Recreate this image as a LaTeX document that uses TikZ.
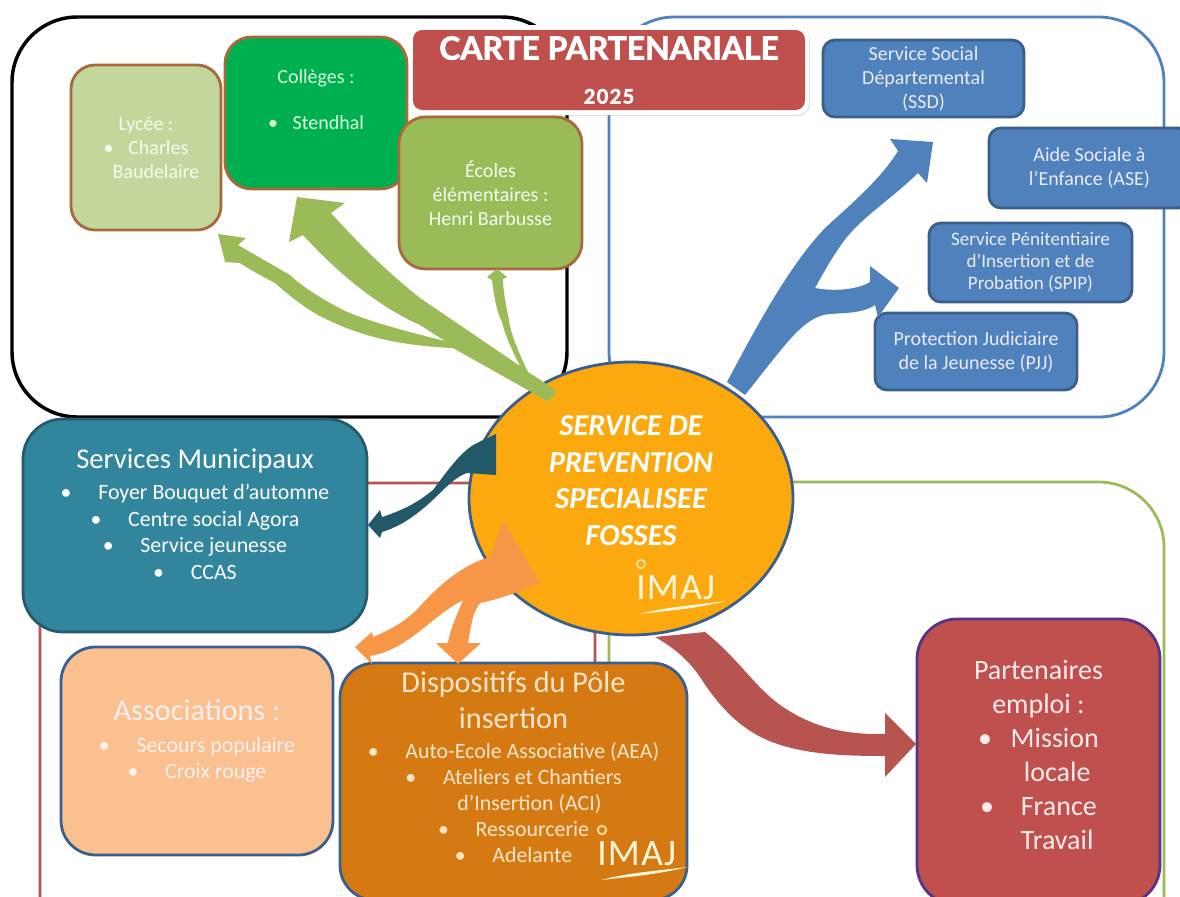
\documentclass[tikz,border=0pt]{standalone}
\usepackage{fontspec}
\setmainfont{Carlito}
\newfontfamily\titlefont[FakeBold=2.2]{Lato Bold}
\usetikzlibrary{shapes.geometric,shadows}
\newcommand\fsz[2]{\fontsize{#1}{#2}\selectfont}
\newcommand\bl{•\hspace{20pt}}
\newcommand\lowdepth[1]{\rule[-#1]{0pt}{#1}}
\definecolor{ctBlack}{HTML}{000000}
\definecolor{ctBlue}{HTML}{4F81BD}
\definecolor{ctRed}{HTML}{B85450}
\definecolor{ctGreen}{HTML}{9BBB59}
\definecolor{edgeBrown}{HTML}{A9693C}
\definecolor{edgeNavy}{HTML}{3A5F8C}
\definecolor{fillRed}{HTML}{C0504D}
\definecolor{fillTeal}{HTML}{31859C}
\definecolor{fillLime}{HTML}{C3D69B}
\definecolor{fillJade}{HTML}{00B050}
\definecolor{darkTeal}{HTML}{215968}
\definecolor{fillPeach}{HTML}{FAC090}
\definecolor{fillOrange}{HTML}{D57A12}
\definecolor{arrowOrange}{HTML}{F79646}
\definecolor{sunOrange}{HTML}{FBA90F}
\definecolor{logoWhite}{HTML}{FFF6DC}
\tikzset{
  zone/.style={line width=2.1pt, rounded corners=49pt},
  card/.style={draw=edgeNavy, line width=2.1pt, align=center, inner sep=0pt},
  brownCard/.style={card, draw=edgeBrown, rounded corners=18pt, font=\fsz{15}{18}},
  blueCard/.style={card, fill=ctBlue, rounded corners=9pt, text=blue!8!white, font=\fsz{15}{18}},
  flow/.style={draw=none}
}
\tikzset{
  imajlogo/.pic={
    \draw[sunOrange!45!white, line width=1.5pt] (6,3) circle (4.2);
    \node[text=logoWhite, font=\fsz{28}{28}, anchor=west, inner sep=0pt] (-word) at (1,27) {I\hspace{1pt}M\hspace{1pt}A\hspace{1pt}J};
    \fill[logoWhite] (5,53) .. controls (30,46) and (60,44) .. (91,40) .. controls (60,48) and (30,50) .. (5,53) -- cycle;
  }
}
\begin{document}
\begin{tikzpicture}[x=0.75pt,y=-0.75pt]
\useasboundingbox (0,0) rectangle (1180,896);
\fill[white] (0,0) rectangle (1180,896);
% containers
\draw[zone, draw=ctRed] (40,483) rectangle (595,960);
\draw[zone, draw=ctGreen] (609,482) rectangle (1164,960);
\draw[zone, draw=ctBlack, line width=2.6pt] (12,17) rectangle (567,417);
\draw[zone, draw=ctBlue] (609,17) rectangle (1164,417);
% title
\node[fill=white, rounded corners=9pt, minimum width=300.75pt, minimum height=67.5pt, inner sep=0pt, drop shadow={shadow xshift=0.6pt, shadow yshift=-0.9pt, opacity=0.25}] (halo) at (608.5,70) {};
\node[fill=fillRed, rounded corners=7pt, minimum width=294pt, minimum height=60pt, align=center, inner sep=0pt, text=white, font=\titlefont\fsz{15}{33}] (title) at (609,70)
  {{\fsz{23.9}{33}\selectfont CARTE PARTENARIALE}\\ 2\hspace{1pt}0\hspace{1pt}2\hspace{1pt}5};
% arrows under cards
\fill[ctRed, flow] (655,637) .. controls (675,648) and (690,662) .. (700,677) .. controls (720,708) and (740,728) .. (767,740) .. controls (800,754) and (840,756) .. (885,756) -- (885,777) -- (916,744) -- (885,713) -- (885,734) .. controls (840,735) and (810,725) .. (783,707) .. controls (755,688) and (740,660) .. (705,632) -- cycle;
% school cards
\node[brownCard, fill=fillLime, text=green!6!white, minimum width=112.5pt, minimum height=123.75pt] (lycee) at (146,147.5)
  {Lycée :\\ •\hspace{11pt}Charles\\ \hspace*{15pt}Baudelaire};
\node[brownCard, fill=fillJade, text=green!15!white, minimum width=136.5pt, minimum height=114pt, rounded corners=20pt] (college) at (316,113)
  {Collèges :\\[17pt] •\hspace{11pt}Stendhal\lowdepth{20pt}};
\node[brownCard, fill=ctGreen, text=green!6!white, minimum width=137.25pt, minimum height=114pt, rounded corners=20pt] (ecole) at (490.5,193)
  {Écoles\\ élémentaires :\\ Henri Barbusse};
% partner cards
\node[blueCard, minimum width=150.75pt, minimum height=57.75pt] (ssd) at (923.5,78.5) {Service Social\\ Départemental\\ (SSD)};
\node[blueCard, minimum width=150.75pt, minimum height=60pt] (ase) at (1089.5,168) {Aide Sociale à\\ l’Enfance (ASE)};
\node[blueCard, minimum width=152.25pt, minimum height=59.25pt, font=\fsz{14.3}{16.5}] (spip) at (1030.5,262.5) {Service Pénitentiaire\\ d’Insertion et de\\ Probation (SPIP)};
\node[blueCard, minimum width=151.5pt, minimum height=57.75pt] (pjj) at (976,351.5) {Protection Judiciaire\\ de la Jeunesse (PJJ)};
% lower cards
\node[card, draw=darkTeal!80!edgeNavy, fill=fillTeal, rounded corners=30pt, text=white, minimum width=258pt, minimum height=159.75pt, font=\fsz{16.4}{20}] (mairie) at (195,525.5)
  {{\fsz{21.5}{20}\selectfont Services Municipaux}\\[3pt] \bl Foyer Bouquet d’automne\\ \bl Centre social Agora\\ \bl Service jeunesse\\ \bl CCAS\lowdepth{17pt}};
\node[card, fill=fillPeach, rounded corners=26pt, text=red!6!white, minimum width=204pt, minimum height=156pt, font=\fsz{16.4}{19.5}] (assoc) at (197,751)
  {{\fsz{22.7}{20}\selectfont Associations :}\\[4pt] \bl Secours populaire\\ \bl Croix rouge\lowdepth{18pt}};
\node[card, fill=fillOrange, rounded corners=26pt, text=orange!20!white, minimum width=260.25pt, minimum height=177.75pt, font=\fsz{16.4}{19.5}] (pole) at (513.5,781.5)
  {{\fsz{22.7}{27}\selectfont Dispositifs du Pôle}\\[7pt] {\fsz{22.7}{27}\selectfont insertion}\\[3pt] \bl Auto-Ecole Associative (AEA)\\ \bl Ateliers et Chantiers\\ \hspace*{24pt}d’Insertion (ACI)\\ \bl Ressourcerie\\ \bl Adelante\lowdepth{22pt}};
\node[card, draw=violet!45!edgeNavy, fill=fillRed, rounded corners=30pt, text=red!8!white, minimum width=182.25pt, minimum height=214.5pt, font=\fsz{21}{25.5}] (emploi) at (1038.5,762)
  {Partenaires\\ emploi :\\ •\hspace{14pt}Mission\\ \hspace*{28pt}locale\\ •\hspace{20pt}France\\ \hspace*{28pt}Travail\lowdepth{10pt}};
\pic at (596,827) {imajlogo};
% blue arrow
\fill[ctBlue, flow] (727,382) .. controls (760,320) and (790,265) .. (825,228) .. controls (850,205) and (880,180) .. (898,151) -- (890,139) -- (933,142) -- (927,183) -- (918,173) .. controls (890,200) and (865,215) .. (847,237) .. controls (835,252) and (825,270) .. (815,288) .. controls (830,291) and (855,291) .. (870,282) -- (870,266) -- (899,288) -- (878,317) -- (875,305) .. controls (860,315) and (840,312) .. (823,315) .. controls (800,322) and (785,345) .. (745,395) -- cycle;
% centre
\node[ellipse, draw=edgeNavy, fill=sunOrange, line width=2.1pt, minimum width=243pt, minimum height=204.75pt, inner sep=0pt, align=center, text=white, font=\bfseries\itshape\fsz{22.8}{27.5}] (centre) at (631,498.5)
  {SERVICE DE\\ PREVENTION\\ SPECIALISEE\\ FOSSES\rule[-27pt]{0pt}{27pt}};
\pic at (635,561) {imajlogo};
% green arrows
\fill[ctGreen, flow] (557,392) -- (545,383) -- (528,372) .. controls (515,345) and (510,330) .. (509,320) .. controls (505,300) and (503,290) .. (503,279) -- (507,277) -- (497,269) -- (487,277) -- (492,280) .. controls (494,295) and (496,310) .. (502,322) .. controls (506,338) and (512,350) .. (520,366) -- (420,298) .. controls (385,270) and (360,245) .. (331,213) -- (345,203) -- (297,197) -- (289,242) -- (303,235) .. controls (335,270) and (375,305) .. (420,325) -- (445,341) .. controls (400,330) and (365,320) .. (343,310) .. controls (320,298) and (300,285) .. (290,275) -- (238,245) -- (246,238) -- (218,234) -- (225,262) -- (240,263) .. controls (250,270) and (262,276) .. (275,283) .. controls (292,298) and (310,312) .. (328,320) .. controls (370,340) and (410,346) .. (453,348) -- (533,393) -- (548,402) -- cycle;
% teal arrow
\fill[darkTeal, flow] (496,434) -- (477,443) .. controls (462,450) and (448,470) .. (433,490) .. controls (423,498) and (410,508) .. (382,517) -- (380,510) -- (368,525) -- (380,538) -- (382,532) .. controls (402,526) and (420,513) .. (440,493) .. controls (450,483) and (458,476) .. (467,473) -- (496,475) -- cycle;
% orange arrow
\fill[arrowOrange, flow] (503,520) -- (490,557) .. controls (460,565) and (435,590) .. (423,603) .. controls (410,618) and (395,628) .. (373,637) -- (372,632) -- (355,647) -- (372,664) -- (370,656) .. controls (395,652) and (415,635) .. (430,623) .. controls (442,613) and (452,606) .. (463,600) .. controls (455,620) and (450,630) .. (448,643) -- (436,643) -- (458,664) -- (481,643) -- (468,643) .. controls (470,630) and (472,622) .. (473,617) .. controls (475,610) and (478,606) .. (480,603) .. controls (495,600) and (520,592) .. (540,583) -- cycle;
\end{tikzpicture}
\end{document}
